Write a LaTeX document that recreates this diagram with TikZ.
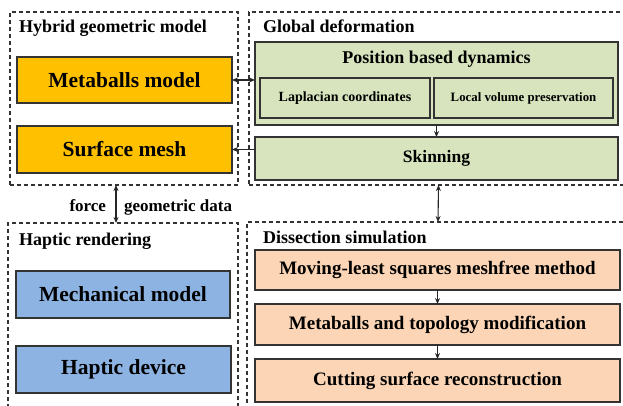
\documentclass[tikz,border=0pt]{standalone}
\usepackage{fontspec}
\setmainfont{Liberation Serif}
\usetikzlibrary{arrows.meta}

\definecolor{metaorange}{HTML}{FFC000}
\definecolor{pbdgreen}{HTML}{D7E4BD}
\definecolor{hapblue}{HTML}{8DB3E2}
\definecolor{cutpeach}{HTML}{FBD5B5}
\definecolor{framegray}{HTML}{333333}

\begin{document}
\begin{tikzpicture}[x=1pt, y=-1pt, >={Stealth[length=6pt,width=5pt]},
    every node/.style={inner sep=0pt, outer sep=0pt},
    frame/.style={draw=framegray, line width=1.1pt, dash pattern=on 4pt off 3pt},
    block/.style={draw=black!80, line width=1.1pt, font=\fontsize{21.5}{24}\selectfont\bfseries},
    subblock/.style={draw=black!80, line width=1.1pt, fill=pbdgreen, minimum height=40pt},
    cutblock/.style={block, fill=cutpeach, minimum width=365pt, font=\fontsize{19}{22}\selectfont\bfseries},
    ttl/.style={font=\fontsize{18}{20}\selectfont\bfseries, anchor=base west},
    lbl/.style={font=\fontsize{17}{19}\selectfont\bfseries},
    link/.style={->, line width=1.1pt, black!85},
    dbl/.style={<->, line width=1.1pt, black!85}]
    \useasboundingbox (0,0) rectangle (623,405);
    \clip (0,0) rectangle (623,405);

    % Dashed group frames
    \node[frame, minimum width=228pt, minimum height=173pt] (hgm) at (124,98.5) {};
    \node[frame, minimum width=379pt, minimum height=173pt] (gd) at (438.5,98.5) {};
    \node[frame, minimum width=230pt, minimum height=192pt] (hr) at (123,319) {};
    \node[frame, minimum width=382pt, minimum height=193pt] (ds) at (438,318.5) {};
    \node[ttl] (hgmtitle) at (19,32) {Hybrid geometric model};
    \node[ttl] (gdtitle) at (263,32) {Global deformation};
    \node[ttl] (hrtitle) at (19,245) {Haptic rendering};
    \node[ttl] (dstitle) at (263,243) {Dissection simulation};

    % Hybrid geometric model
    \node[block, fill=metaorange, minimum width=215pt, minimum height=46pt] (meta) at (124.5,80) {Metaballs model};
    \node[block, fill=metaorange, minimum width=215pt, minimum height=47pt] (surf) at (124.5,149.5) {Surface mesh};

    % Global deformation
    \node[block, fill=pbdgreen, minimum width=363pt, minimum height=83pt] (pbd) at (436.5,83.5) {};
    \node[font=\fontsize{18}{20}\selectfont\bfseries, anchor=base] (pbdtxt) at (436.5,63) {Position based dynamics};
    \node[subblock, minimum width=170pt, font=\fontsize{14}{16}\selectfont\bfseries] (lap) at (345,98) {Laplacian coordinates};
    \node[subblock, minimum width=179pt, font=\fontsize{12.8}{15}\selectfont\bfseries] (lvp) at (523.5,98) {Local volume preservation};
    \node[block, fill=pbdgreen, minimum width=363pt, minimum height=43pt, font=\fontsize{17.5}{20}\selectfont\bfseries] (skin) at (436.5,158.5) {Skinning};
    \draw[link] (pbd.south) -- (skin.north);

    % Haptic rendering
    \node[block, fill=hapblue, minimum width=214pt, minimum height=47pt] (mech) at (123,294.5) {Mechanical model};
    \node[block, fill=hapblue, minimum width=215pt, minimum height=47pt] (hdev) at (123.5,369.5) {Haptic device};

    % Dissection simulation
    \node[cutblock, minimum height=40pt] (mls) at (437.5,270) {Moving-least squares meshfree method};
    \node[cutblock, minimum height=41pt] (topo) at (437.5,324.5) {Metaballs and topology modification};
    \node[cutblock, minimum height=43pt] (cut) at (437.5,380.5) {Cutting surface reconstruction};
    \draw[link] (mls.south) -- (topo.north);
    \draw[link] (topo.south) -- (cut.north);

    % Links between the groups
    \draw[dbl] (meta.east) -- (meta.east -| pbd.west);
    \draw[link] (skin.west |- surf.east) -- (surf.east);
    \draw[dbl] (gd.south) -- (ds.north);
    \draw[dbl] ([xshift=-8pt]hgm.south) -- ([xshift=-8pt]hgm.south |- hr.north);
    \node[lbl, anchor=base east] (force) at (106,211) {force};
    \node[lbl, anchor=base west] (gdata) at (124,211) {geometric data};
\end{tikzpicture}
\end{document}
